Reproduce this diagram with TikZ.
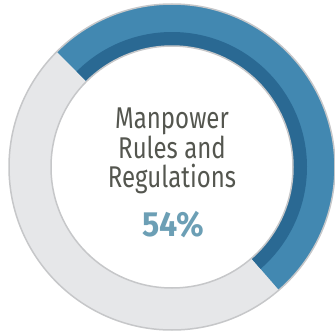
\documentclass[tikz,border=0pt]{standalone}
\usepackage{fontspec}
\setmainfont{Fira Sans}[FakeStretch=0.8]
\newfontfamily\pctfont{Fira Sans}[FakeStretch=0.92]
\definecolor{ringgray}{HTML}{E6E7E9}
\definecolor{ringline}{HTML}{C6C7C9}
\definecolor{lightblue}{HTML}{4288B1}
\definecolor{darkblue}{HTML}{2A6993}
\definecolor{textgray}{HTML}{54564F}
\definecolor{pctblue}{HTML}{6C9FB5}
\tikzset{
  label text/.style={inner sep=0pt, anchor=base, text=textgray, font=\fontsize{30}{30}\selectfont},
  pct text/.style={inner sep=0pt, anchor=base, text=pctblue, font=\pctfont\fontsize{35}{35}\selectfont\bfseries},
}
\begin{document}
\begin{tikzpicture}[x=1pt,y=1pt]
\useasboundingbox (0,0) rectangle (335,333);
\coordinate (c) at (172,166);
\fill[ringgray, even odd rule] (c) circle (163) (c) circle (121);
\fill[lightblue] ([shift={(135:163)}]c) arc[start angle=135, end angle=-49, radius=163]
  -- ([shift={(-49:121)}]c) arc[start angle=-49, end angle=135, radius=121] -- cycle;
\fill[darkblue] ([shift={(135:135)}]c) arc[start angle=135, end angle=-49, radius=135]
  -- ([shift={(-49:121)}]c) arc[start angle=-49, end angle=135, radius=121] -- cycle;
\draw[ringline, line width=1.5pt] (c) circle (163);
\draw[ringline, line width=1.5pt] (c) circle (121);
\node[label text] (l1) at (172,205) {Manpower};
\node[label text] (l2) at (172,175) {Rules and};
\node[label text] (l3) at (172,146) {Regulations};
\node[pct text] (pct) at (173,97) {54\%};
\end{tikzpicture}
\end{document}
